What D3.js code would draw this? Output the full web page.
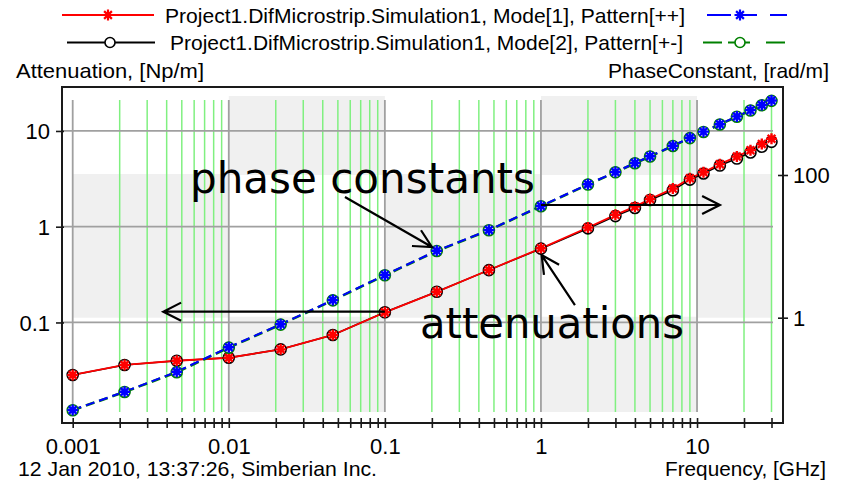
<!DOCTYPE html>
<html>
<head>
<meta charset="utf-8">
<script src="https://cdn.jsdelivr.net/npm/d3@7"></script>
<style>
  body { margin: 0; background: #fff; }
  svg { display: block; }
  text { font-family: "Liberation Sans", Arial, sans-serif; fill: #000; }
  .note { font-family: "DejaVu Sans", Verdana, sans-serif; }
</style>
</head>
<body>
<svg id="chart" width="844" height="486"></svg>
<script>
// Frequency sweep, GHz
const freqGHz = [0.001, 0.00215, 0.00464, 0.01, 0.0215, 0.0464, 0.1, 0.215, 0.464,
                 1, 2, 3, 4, 5, 7, 9, 11, 14, 18, 22, 26, 30];
// Attenuation, Np/m
const attenMode1 = [0.0283, 0.036, 0.0398, 0.0428, 0.0524, 0.074, 0.1276, 0.209, 0.353,
                    0.595, 0.98, 1.33, 1.62, 1.95, 2.5, 3.2, 3.7, 4.5, 5.4, 6.3, 7.3, 8.3];
const attenMode2 = [0.0283, 0.036, 0.0398, 0.0428, 0.0524, 0.074, 0.1276, 0.209, 0.352,
                    0.59, 0.96, 1.29, 1.57, 1.9, 2.4, 3.1, 3.6, 4.35, 5.15, 5.95, 6.85, 7.7];
// Phase constant, rad/m
const phaseMode1 = [0.0508, 0.0918, 0.175, 0.385, 0.808, 1.77, 3.97, 8.69, 16.9,
                    36.8, 74, 110, 147, 183, 257, 332, 405, 515, 662, 810, 957, 1105];
const phaseMode2 = [0.0505, 0.091, 0.172, 0.38, 0.8, 1.75, 3.93, 8.6, 16.8,
                    36.5, 73.4, 109, 146, 181.5, 255, 329, 401, 510, 655, 802, 948, 1094];

// Axis limits and ticks
const attenLimits = [0.01161, 22.63];
const phaseLimits = [0.04767, 1239];
const freqDecades = [0.001, 0.01, 0.1, 1, 10];
const attenTicks = [0.1, 1, 10];
const phaseTicks = [1, 100];

const legendLabels = [
  "Project1.DifMicrostrip.Simulation1, Mode[1], Pattern[++]",
  "Project1.DifMicrostrip.Simulation1, Mode[2], Pattern[+-]"
];
const leftTitle = "Attenuation, [Np/m]";
const rightTitle = "PhaseConstant, [rad/m]";
const stampText = "12 Jan 2010, 13:37:26, Simberian Inc.";
const xTitle = "Frequency, [GHz]";

// Callouts: text anchors and arrows given in data coordinates (axis: "L" attenuation, "R" phase)
const noteLabels = [
  { text: "phase constants", f: 0.005641, v: 55.9, axis: "R", width: 345 },
  { text: "attenuations", f: 0.1679, v: 0.0688, axis: "L", width: 264 }
];
const noteArrows = [
  { from: [0.05551, 49.2], to: [0.2002, 9.79], axis: "R" },
  { from: [1, 37.97], to: [14.02, 37.97], axis: "R" },
  { from: [0.1, 0.1295], to: [0.003805, 0.1295], axis: "L" },
  { from: [1.651, 0.1521], to: [1.0104, 0.5062], axis: "L" }
];

const C = { red: "#ff0000", black: "#000000", blue: "#0000ff", green: "#008000",
            grid: "#a0a0a0", minor: "#80f080", band: "#f0f0f0", frame: "#1a1a1a" };

const svg = d3.select("#chart");
const frame = { left: 62, top: 87, right: 783, bottom: 423 };
const plot = { left: 72.7, right: 771.5, top: 97, bottom: 412 };

const x = d3.scaleLog().domain([freqGHz[0], freqGHz[freqGHz.length - 1]]).range([plot.left, plot.right]);
const yL = d3.scaleLog().domain(attenLimits).range([plot.bottom, plot.top]);
const yR = d3.scaleLog().domain(phaseLimits).range([plot.bottom, plot.top]);

// all 1..9 multiples of each decade within the sweep
const fMax = freqGHz[freqGHz.length - 1];
const freqGrid = [];
freqDecades.forEach(d => { for (let k = 1; k <= 9; k++) { const v = +(k * d).toPrecision(3); if (v <= fMax * 1.0001) freqGrid.push({ v, major: k === 1 }); } });

// Checkerboard background: columns by frequency decade, rows by phase-axis major ticks
const colEdges = freqDecades.concat([fMax]);
const rowEdges = [phaseLimits[0]].concat(phaseTicks, [phaseLimits[1]]);
const bands = [];
for (let i = 0; i < colEdges.length - 1; i++)
  for (let j = 0; j < rowEdges.length - 1; j++)
    if ((i + j) % 2 === 1) bands.push({ x0: colEdges[i], x1: colEdges[i + 1], y0: rowEdges[j], y1: rowEdges[j + 1] });

svg.append("g").selectAll("rect").data(bands).join("rect")
  .attr("x", d => x(d.x0)).attr("width", d => x(d.x1) - x(d.x0))
  .attr("y", d => yR(d.y1) - 1).attr("height", d => yR(d.y0) - yR(d.y1) + 1)
  .attr("fill", C.band);

// vertical grid
svg.append("g").selectAll("line").data(freqGrid).join("line")
  .attr("x1", d => x(d.v)).attr("x2", d => x(d.v))
  .attr("y1", plot.top + 3).attr("y2", plot.bottom)
  .attr("stroke", d => d.major ? C.grid : C.minor)
  .attr("stroke-width", d => d.major ? 1.8 : 1.5);

// horizontal grid (attenuation decades)
svg.append("g").selectAll("line").data(attenTicks).join("line")
  .attr("x1", frame.left).attr("x2", plot.right + 1.5)
  .attr("y1", d => yL(d)).attr("y2", d => yL(d))
  .attr("stroke", C.grid).attr("stroke-width", 1.8);

// frame
svg.append("rect")
  .attr("x", frame.left).attr("y", frame.top)
  .attr("width", frame.right - frame.left).attr("height", frame.bottom - frame.top)
  .attr("fill", "none").attr("stroke", C.frame).attr("stroke-width", 2);

// bottom axis
const fmt = d3.format("~g");
const gx = svg.append("g").attr("transform", `translate(0,${frame.bottom})`)
  .call(d3.axisBottom(x).tickValues(freqGrid.map(d => d.v)).tickSize(5)
    .tickFormat(d => freqDecades.includes(d) ? fmt(d) : ""));
gx.select(".domain").remove();
gx.selectAll(".tick line").attr("y1", -5).attr("y2", 5).attr("stroke", C.frame).attr("stroke-width", 1.6);
gx.selectAll(".tick text").attr("y", 31).attr("dy", 0).style("font-size", "22px")
  .style("font-family", "'Liberation Sans', Arial, sans-serif").attr("fill", "#000");

// left axis
const gl = svg.append("g").attr("transform", `translate(${frame.left},0)`)
  .call(d3.axisLeft(yL).tickValues(attenTicks).tickFormat(fmt).tickSize(6));
gl.select(".domain").remove();
gl.selectAll(".tick line").attr("x1", -6).attr("x2", 2).attr("stroke", C.frame).attr("stroke-width", 1.6);
gl.selectAll(".tick text").attr("x", -12).attr("dy", "0.36em").style("font-size", "22px")
  .style("font-family", "'Liberation Sans', Arial, sans-serif").attr("fill", "#000");

// right axis
const gr = svg.append("g").attr("transform", `translate(${frame.right},0)`)
  .call(d3.axisRight(yR).tickValues(phaseTicks).tickFormat(fmt).tickSize(5));
gr.select(".domain").remove();
gr.selectAll(".tick line").attr("x1", -5).attr("x2", 5).attr("stroke", C.frame).attr("stroke-width", 1.6);
gr.selectAll(".tick text").attr("x", 10).attr("dy", "0.36em").style("font-size", "22px")
  .style("font-family", "'Liberation Sans', Arial, sans-serif").attr("fill", "#000");

// series
const series = [
  { vals: attenMode2, y: yL, color: C.black, dash: null, width: 1.6, marker: "circle" },
  { vals: attenMode1, y: yL, color: C.red, dash: null, width: 1.8, marker: "star" },
  { vals: phaseMode2, y: yR, color: C.green, dash: "9,5", width: 2.6, marker: "circle" },
  { vals: phaseMode1, y: yR, color: C.blue, dash: "9,5", width: 2, marker: "star" }
];

function starPath(r) {
  const a = r * Math.SQRT1_2;
  return `M${-r},0H${r}M0,${-r}V${r}M${-a},${-a}L${a},${a}M${-a},${a}L${a},${-a}`;
}

const lineGen = (ys, vals) => d3.line().x((d, i) => x(freqGHz[i])).y((d, i) => ys(vals[i]));
series.forEach(s => {
  svg.append("path").datum(s.vals)
    .attr("d", lineGen(s.y, s.vals))
    .attr("fill", "none").attr("stroke", s.color).attr("stroke-width", s.width)
    .attr("stroke-dasharray", s.dash);
});
series.forEach(s => {
  const g = svg.append("g");
  const pts = s.vals.map((v, i) => ({ cx: x(freqGHz[i]), cy: s.y(v) }));
  if (s.marker === "circle") {
    g.selectAll("circle").data(pts).join("circle")
      .attr("cx", d => d.cx).attr("cy", d => d.cy).attr("r", 5.5)
      .attr("fill", "#fff").attr("stroke", s.color).attr("stroke-width", 1.6);
  } else {
    g.selectAll("path").data(pts).join("path")
      .attr("transform", d => `translate(${d.cx},${d.cy})`)
      .attr("d", starPath(5.5))
      .attr("fill", "none").attr("stroke", s.color).attr("stroke-width", 2.4);
  }
});

// legend
const legend = [
  { label: legendLabels[0], y: 15, lx: [62, 154], mx: 108, color: C.red, marker: "star", tx: 165, tw: 520,
    rx: [707, 787], rmx: 740, rcolor: C.blue, rdash: "24,5,21,13,17", rmarker: "star" },
  { label: legendLabels[1], y: 42.5, lx: [67, 155], mx: 110, color: C.black, marker: "circle", tx: 170, tw: 513,
    rx: [703, 785], rmx: 740, rcolor: C.green, rdash: "19,6,22,16,19", rmarker: "circle" }
];
function legendMarker(g, kind, cx, cy, color) {
  if (kind === "star") {
    g.append("path").attr("transform", `translate(${cx},${cy})`).attr("d", starPath(5.5))
      .attr("fill", "none").attr("stroke", color).attr("stroke-width", 2.2);
  } else {
    g.append("circle").attr("cx", cx).attr("cy", cy).attr("r", 5)
      .attr("fill", "#fff").attr("stroke", color).attr("stroke-width", 1.6);
  }
}
legend.forEach(L => {
  const g = svg.append("g");
  g.append("line").attr("x1", L.lx[0]).attr("x2", L.lx[1]).attr("y1", L.y).attr("y2", L.y)
    .attr("stroke", L.color).attr("stroke-width", 2);
  legendMarker(g, L.marker, L.mx, L.y, L.color);
  g.append("text").attr("x", L.tx).attr("y", L.y + 7.5).style("font-size", "21px")
    .attr("textLength", L.tw).attr("lengthAdjust", "spacingAndGlyphs").text(L.label);
  g.append("line").attr("x1", L.rx[0]).attr("x2", L.rx[1]).attr("y1", L.y).attr("y2", L.y)
    .attr("stroke", L.rcolor).attr("stroke-width", 2).attr("stroke-dasharray", L.rdash);
  legendMarker(g, L.rmarker, L.rmx, L.y, L.rcolor);
});

// axis titles and footer
svg.append("text").attr("x", 16).attr("y", 78).style("font-size", "21px")
  .attr("textLength", 188).attr("lengthAdjust", "spacingAndGlyphs").text(leftTitle);
svg.append("text").attr("x", 829).attr("y", 78).attr("text-anchor", "end").style("font-size", "21px")
  .attr("textLength", 221).attr("lengthAdjust", "spacingAndGlyphs").text(rightTitle);
svg.append("text").attr("x", 18).attr("y", 476).style("font-size", "21px")
  .attr("textLength", 359).attr("lengthAdjust", "spacingAndGlyphs").text(stampText);
svg.append("text").attr("x", 826).attr("y", 476).attr("text-anchor", "end").style("font-size", "21px")
  .attr("textLength", 161).attr("lengthAdjust", "spacingAndGlyphs").text(xTitle);

// callouts
const yAxisOf = a => a === "L" ? yL : yR;
noteLabels.forEach(n => {
  svg.append("text").attr("class", "note")
    .attr("x", x(n.f)).attr("y", yAxisOf(n.axis)(n.v))
    .style("font-size", "42px").style("font-family", "'DejaVu Sans', Verdana, sans-serif")
    .attr("textLength", n.width).attr("lengthAdjust", "spacingAndGlyphs")
    .text(n.text);
});
const armLen = 20, armAng = 27 * Math.PI / 180;
noteArrows.forEach(a => {
  const ys = yAxisOf(a.axis);
  const x0 = x(a.from[0]), y0 = ys(a.from[1]);
  const x1 = x(a.to[0]), y1 = ys(a.to[1]);
  const ang = Math.atan2(y0 - y1, x0 - x1);
  const p = d3.path();
  p.moveTo(x0, y0); p.lineTo(x1, y1);
  p.moveTo(x1 + armLen * Math.cos(ang + armAng), y1 + armLen * Math.sin(ang + armAng));
  p.lineTo(x1, y1);
  p.lineTo(x1 + armLen * Math.cos(ang - armAng), y1 + armLen * Math.sin(ang - armAng));
  svg.append("path").attr("d", p.toString()).attr("fill", "none")
    .attr("stroke", "#000").attr("stroke-width", 2.2).attr("stroke-linejoin", "miter");
});
</script>
</body>
</html>
